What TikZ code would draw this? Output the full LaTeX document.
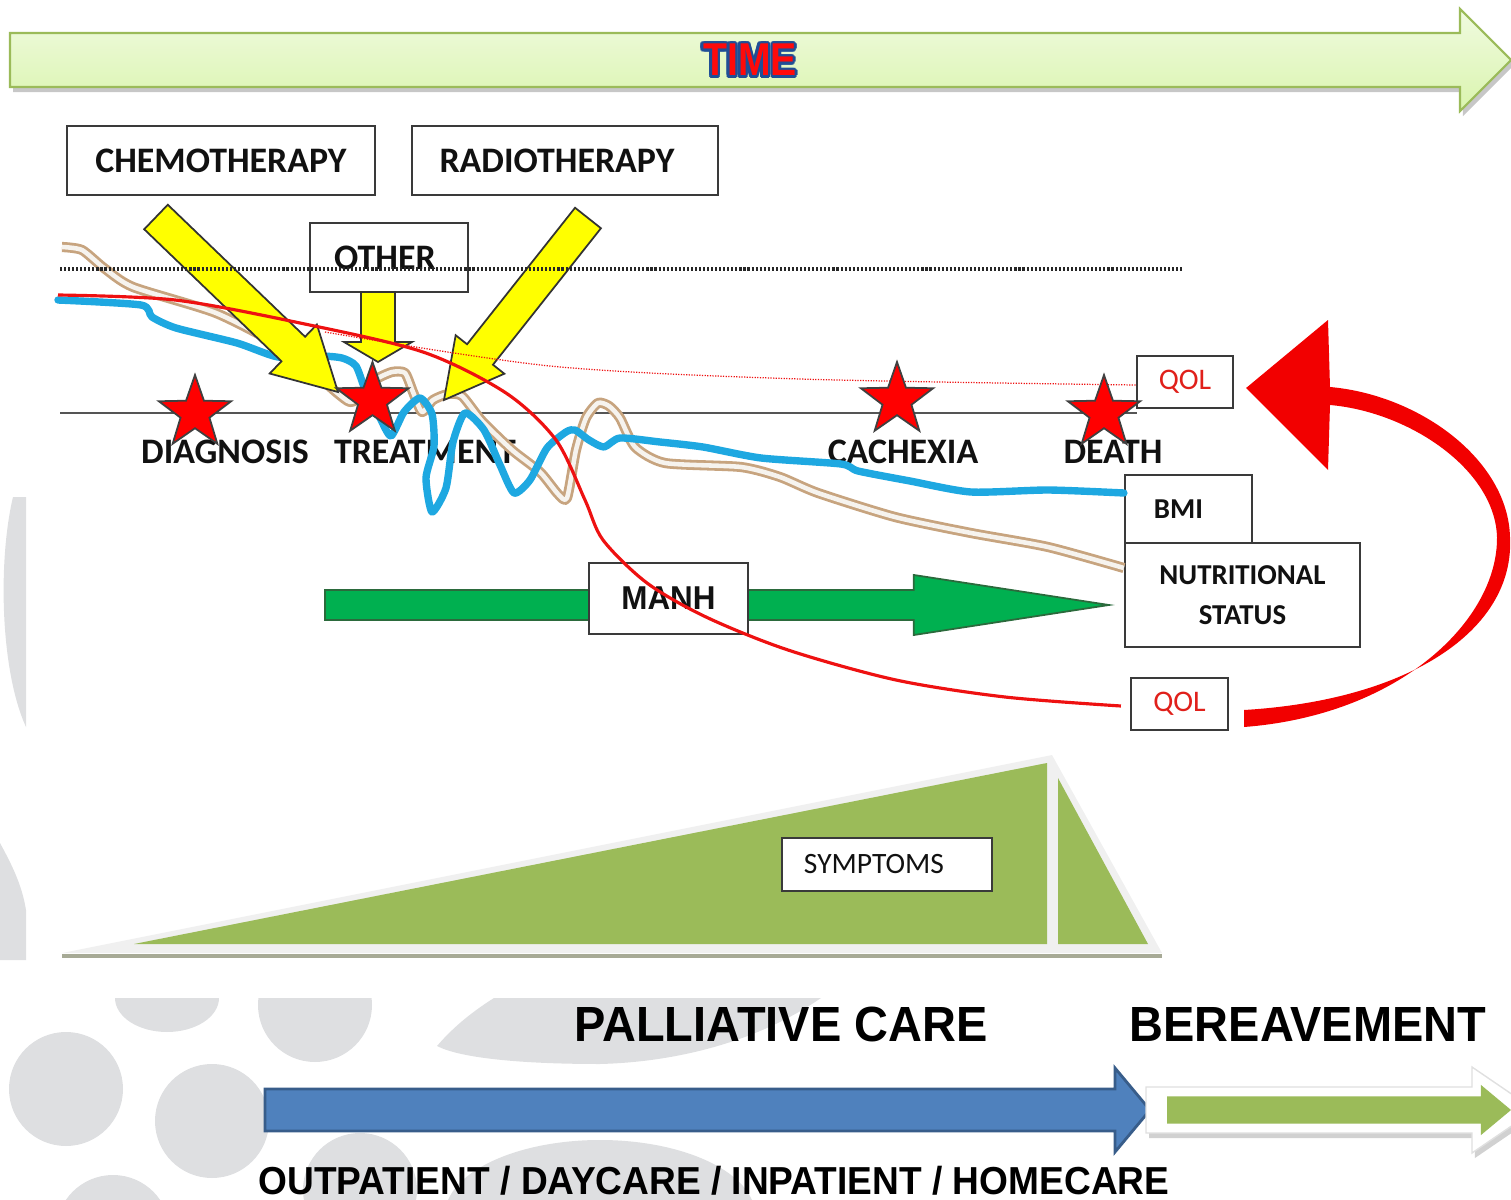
\documentclass[tikz,border=0pt]{standalone}
\usepackage{fontspec}
\setmainfont{Carlito}
\newfontfamily\capfont[FakeStretch=0.95]{Liberation Sans}
\newfontfamily\timefont[FakeStretch=0.85]{Liberation Sans}
\usetikzlibrary{calc,shapes.geometric}
\definecolor{cMark}{HTML}{DEDFE1}
\definecolor{cTimeTop}{HTML}{F0FBE0}
\definecolor{cTimeBot}{HTML}{DAF4AE}
\definecolor{cTimeEdge}{HTML}{9BBB59}
\definecolor{cTimeRed}{HTML}{FF0A0A}
\definecolor{cTimeBlue}{HTML}{1F4E96}
\definecolor{cBox}{HTML}{3A3A3A}
\definecolor{cInk}{HTML}{111111}
\definecolor{cQol}{HTML}{E0201B}
\definecolor{cStar}{HTML}{FF0000}
\definecolor{cYellow}{HTML}{FFFF00}
\definecolor{cBmi}{HTML}{1EA8E1}
\definecolor{cNut}{HTML}{C7A47F}
\definecolor{cNutHi}{HTML}{F6F3EE}
\definecolor{cQolLine}{HTML}{EE1111}
\definecolor{cLoop}{HTML}{F20000}
\definecolor{cManh}{HTML}{00B050}
\definecolor{cManhEdge}{HTML}{2B6A3C}
\definecolor{cSymp}{HTML}{9BBB59}
\definecolor{cSympGlow}{HTML}{F0F0F0}
\definecolor{cSympBase}{HTML}{A7AA96}
\definecolor{cAxis}{HTML}{555555}
\definecolor{cPal}{HTML}{4F81BD}
\definecolor{cPalEdge}{HTML}{385D8A}
\definecolor{cBer}{HTML}{9BBB59}
\tikzset{
  txtbox/.style={draw=cBox, fill=white, line width=0.6pt, inner sep=0pt, align=center,
                 text=cInk, font=\fontsize{10.2}{12}\selectfont\bfseries},
  qolbox/.style={txtbox, font=\fontsize{8.5}{10}\selectfont, text=cQol},
  statbox/.style={txtbox, font=\fontsize{8.2}{11.4}\selectfont\bfseries},
  sympbox/.style={txtbox, font=\fontsize{8.4}{10}\selectfont},
  manhbox/.style={txtbox, font=\capfont\fontsize{9.4}{11}\selectfont\bfseries},
  stage/.style={inner sep=0pt, text=cInk, font=\fontsize{10.2}{12}\selectfont\bfseries},
  event/.style={star, star points=5, star point ratio=2.5, fill=cStar, draw=black!75,
                line width=0.5pt, minimum size=0.76cm, inner sep=0pt},
  caretext/.style={inner sep=0pt, text=black, font=\capfont\fontsize{14.05}{16}\selectfont\bfseries},
  settext/.style={caretext, font=\capfont\fontsize{11.1}{13}\selectfont\bfseries},
  timebg/.style={inner sep=0pt, text=cTimeBlue, font=\timefont\fontsize{13.1}{15}\selectfont\bfseries},
  timefg/.style={timebg, text=cTimeRed},
  timeshadow/.style={fill=black!22, transform canvas={shift={(3,5)}}},
  timearrow/.style={top color=cTimeTop, bottom color=cTimeBot, draw=cTimeEdge, line width=0.6pt},
  yarrow/.style={fill=cYellow, draw=black!80, line width=0.5pt},
  garrow/.style={fill=cManh, draw=cManhEdge, line width=0.5pt},
  palarrow/.style={fill=cPal, draw=cPalEdge, line width=0.8pt},
  bershadow/.style={fill=black!18, transform canvas={shift={(3,5)}}},
  berframe/.style={fill=white, draw=black!12, line width=0.4pt},
  berarrow/.style={fill=cBer},
  axisline/.style={draw=cAxis, line width=0.85pt},
  refline/.style={draw=black!85, line width=1pt, dash pattern=on 0.6pt off 0.55pt},
  qoldot/.style={draw=cQolLine, line width=0.35pt, dash pattern=on 0.35pt off 0.4pt},
  bmiline/.style={draw=cBmi, line width=2.1pt, line join=round, line cap=round},
  nutline/.style={draw=cNut, line width=0.8pt, double=cNutHi, double distance=1.3pt, line join=round},
  qolline/.style={draw=cQolLine, line width=0.9pt},
}
% block arrow: style, tail, tip, half shaft, half head, head length
\newcommand{\blockarrow}[6]{%
  \coordinate (ba-h) at ($(#3)!#6!(#2)$);
  \path[#1] ($(#2)!#4!90:(#3)$) -- ($(ba-h)!#4!90:(#3)$) -- ($(ba-h)!#5!90:(#3)$) -- (#3)
    -- ($(ba-h)!#5!-90:(#3)$) -- ($(ba-h)!#4!-90:(#3)$) -- ($(#2)!#4!-90:(#3)$) -- cycle;
}
\begin{document}
\begin{tikzpicture}[x=0.01cm,y=-0.01cm]
\useasboundingbox (0,0) rectangle (1511,1200);
\clip (0,0) rectangle (1511,1200);

% ---------------------------------------------------------------- watermark
\fill[cMark] (13,497) .. controls (-2,560) and (0,670) .. (26,727) -- (26,497) -- cycle;
\fill[cMark] (0,843) .. controls (12,865) and (22,885) .. (26,910) -- (26,960) -- (0,960) -- cycle;
\begin{scope}
  \clip (0,998) rectangle (1511,1200);
  \fill[cMark] (167,998) ellipse [x radius=52, y radius=34];
  \foreach \cx/\cy in {315/1005, 66/1089, 212/1121, 360/1190, 113/1232}
    \fill[cMark] (\cx,\cy) circle [radius=57];
  \fill[cMark] (494,998) -- (821,998) .. controls (760,1040) and (680,1062) .. (600,1064)
    .. controls (520,1064) and (460,1058) .. (437,1046) .. controls (455,1025) and (475,1010) .. cycle;
  \fill[cMark] (600,1215) ellipse [x radius=155, y radius=75];
\end{scope}

% ---------------------------------------------------------------- time axis
\coordinate (timetail) at (10,60);
\coordinate (timetip) at (1511,60);
\blockarrow{timeshadow}{timetail}{timetip}{0.27cm}{0.51cm}{0.51cm}
\blockarrow{timearrow}{timetail}{timetip}{0.27cm}{0.51cm}{0.51cm}
\coordinate (timec) at (750,60);
\foreach \a in {0,30,...,330}
  \node[timebg] (timeo\a) at ($(timec)+(\a:2.6)$) {TIME};
\node[timefg] (timelbl) at (timec) {TIME};

% ---------------------------------------------------------------- symptoms
\fill[cSympGlow] (62,953) -- (1052,755) -- (1162,953) -- cycle;
\fill[cSymp] (134,944) -- (1047,763) -- (1047,944) -- cycle;
\fill[cSymp] (1058,778) -- (1148,944) -- (1058,944) -- cycle;
\draw[draw=cSympBase, line width=1.2pt] (62,956) -- (1162,956);
\node[sympbox, minimum width=2.10cm, minimum height=0.53cm] (symp) at (887,864.5) {\hspace*{-0.26cm}SYMPTOMS};

% ---------------------------------------------------------------- reference lines and stages
\draw[axisline] (60,413) -- (1137,413);
\node[stage] (ldiag) at (225,452) {DIAGNOSIS};
\node[stage] (ltreat) at (425,452) {TREATMENT};
\node[stage] (lcach) at (903,452) {CACHEXIA};
\node[stage] (ldeath) at (1113,452) {DEATH};

% ---------------------------------------------------------------- boxes
\node[txtbox, minimum width=3.08cm, minimum height=0.69cm] (chemo) at (221,160.5) {CHEMOTHERAPY};
\node[txtbox, minimum width=3.06cm, minimum height=0.69cm] (radio) at (565,160.5) {\hspace*{-0.16cm}RADIOTHERAPY};
\node[txtbox, minimum width=1.58cm, minimum height=0.69cm] (other) at (389,257.5) {\hspace*{-0.08cm}OTHER};
\node[qolbox, minimum width=0.96cm, minimum height=0.52cm] (qolt) at (1185,382) {QOL};
\node[statbox, minimum width=1.27cm, minimum height=0.68cm] (bmi) at (1188.5,509) {\hspace*{-0.2cm}BMI};
\node[statbox, minimum width=2.35cm, minimum height=1.04cm] (nutr) at (1242.5,595) {NUTRITIONAL\\STATUS};
\node[qolbox, minimum width=0.97cm, minimum height=0.52cm] (qolb) at (1179.5,704) {QOL};

\coordinate (manhtail) at (325,605);
\coordinate (manhtip) at ($(nutr.west)+(-15,10)$);
\blockarrow{garrow}{manhtail}{manhtip}{0.15cm}{0.30cm}{1.95cm}
\node[manhbox, minimum width=1.59cm, minimum height=0.71cm] (manh) at (668.5,598.5) {MANH};

% ---------------------------------------------------------------- curves
\coordinate (nutend) at ($(nutr.west)+(0,-27)$);
\coordinate (bmiend) at ($(bmi.west)+(0,-16)$);
\draw[nutline] plot[smooth, tension=0.4] coordinates {(62,247) (82,250) (104,268) (133,287)
  (216,313) (282,347) (318,376) (336,392) (350,402) (362,396) (375,380) (392,372) (405,373)
  (413,392) (422,412) (433,400) (448,394) (462,396) (482,421) (512,450) (540,472) (558,494)
  (567,498) (576,450) (586,418) (598,403) (609,406) (620,418) (635,447) (665,463) (741,467)
  (780,477) (818,493) (895,517) (971,533) (1048,547) (nutend)};
\draw[bmiline] plot[smooth, tension=0.4] coordinates {(58,300) (141,305) (152,317) (176,328)
  (237,343) (278,357) (320,356) (342,358) (356,366) (366,392) (380,418) (391,436) (404,412)
  (420,398) (432,414) (434,446) (426,478) (432,512) (446,488) (453,442) (465,413) (484,430)
  (500,465) (514,493) (530,480) (547,448) (566,432) (575,430) (589,440) (604,447) (620,438)
  (660,442) (703,447) (761,458) (841,464) (858,471) (910,481) (971,492) (1048,490) (bmiend)};

% ---------------------------------------------------------------- treatments
\coordinate (chemotail) at (156,217);
\coordinate (chemotip) at (338,392);
\coordinate (othertail) at (378,292);
\coordinate (othertip) at (378,362);
\coordinate (radiotail) at (588,218);
\coordinate (radiotip) at (444,400);
\blockarrow{yarrow}{chemotail}{chemotip}{0.17cm}{0.34cm}{0.62cm}
\blockarrow{yarrow}{othertail}{othertip}{0.17cm}{0.34cm}{0.20cm}
\blockarrow{yarrow}{radiotail}{radiotip}{0.165cm}{0.31cm}{0.58cm}

\draw[refline] (60,269) -- (1183,269);
\coordinate (qoltend) at ($(qolt.west)+(0,3)$);
\draw[qoldot] plot[smooth] coordinates {(325,332) (550,366) (800,379) (qoltend)};

% ---------------------------------------------------------------- events
\node[event] (sdiag) at (195,413) {};
\node[event] (streat) at (372.5,400) {};
\node[event] (scach) at (897,400) {};
\node[event] (sdeath) at (1104,413) {};

% ---------------------------------------------------------------- quality of life
\coordinate (qolend) at ($(qolb.west)+(-9,2)$);
\draw[qolline] plot[smooth] coordinates {(58,295) (175,300) (300,323) (423,352) (506,393)
  (556,440) (585,500) (603,540) (647,583) (706,617) (788,650) (896,680) (1005,697) (qolend)};
\fill[cLoop] ($(qolb.east)+(15,6)$) .. controls (1410,700) and (1515,630) .. (1510,537)
  .. controls (1508,460) and (1420,395) .. (1330,387) -- (1328,320) -- ($(qolt.east)+(12,6)$)
  -- (1328,470) -- (1330,405) .. controls (1410,412) and (1495,470) .. (1497,537)
  .. controls (1498,620) and (1400,715) .. ($(qolb.east)+(15,23)$) -- cycle;

% ---------------------------------------------------------------- care phases
\node[caretext] (palli) at (781,1024) {PALLIATIVE CARE};
\node[caretext] (berea) at (1308,1024) {BEREAVEMENT};
\coordinate (pctail) at (265,1110);
\coordinate (pctip) at (1150,1110);
\blockarrow{palarrow}{pctail}{pctip}{0.21cm}{0.42cm}{0.35cm}
\coordinate (brtail) at (1146,1110);
\coordinate (brtip) at (1535,1110);
\blockarrow{bershadow}{brtail}{brtip}{0.23cm}{0.43cm}{0.63cm}
\blockarrow{berframe}{brtail}{brtip}{0.23cm}{0.43cm}{0.63cm}
\coordinate (bgtail) at (1167,1110);
\coordinate (bgtip) at (1511,1110);
\blockarrow{berarrow}{bgtail}{bgtip}{0.135cm}{0.25cm}{0.30cm}
\node[settext] (setting) at (714,1181) {OUTPATIENT / DAYCARE / INPATIENT / HOMECARE};

\end{tikzpicture}
\end{document}
